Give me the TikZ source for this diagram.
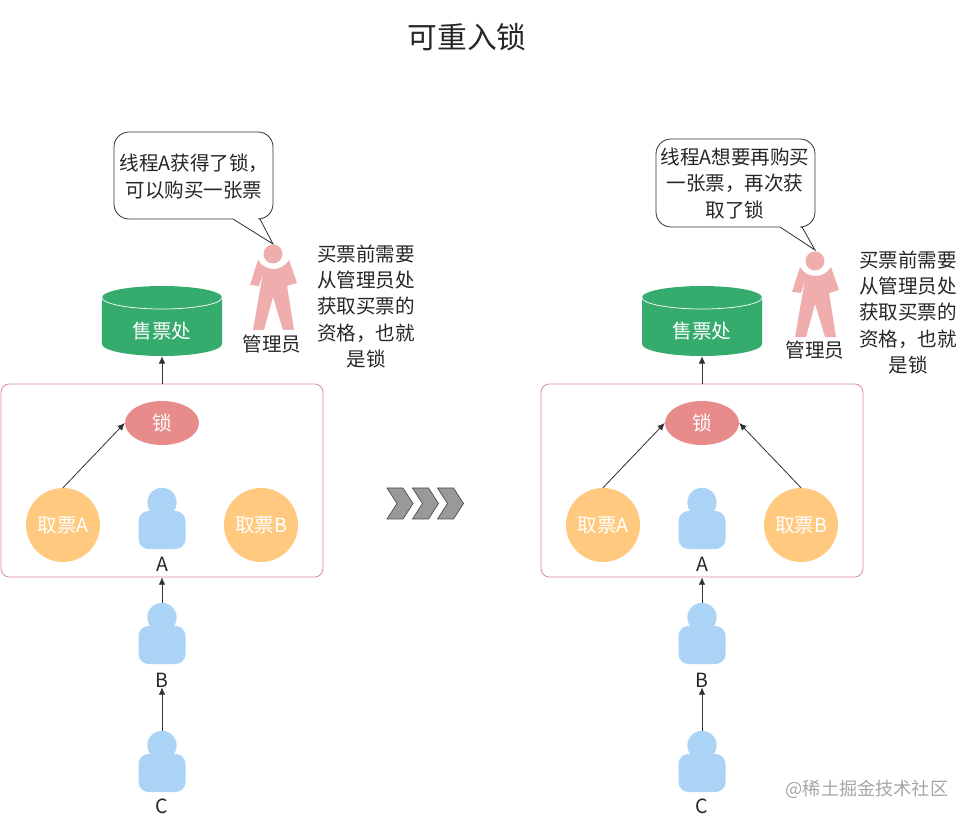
\documentclass[tikz,border=0pt]{standalone}
\usepackage{fontspec}
\setmainfont{Noto Sans CJK SC}
\usepackage{tikz}
\usetikzlibrary{shapes.geometric,arrows.meta}
\definecolor{bleu}{HTML}{ABD3F5}
\definecolor{orange}{HTML}{FFC97F}
\definecolor{rouge}{HTML}{E88B8B}
\definecolor{vert}{HTML}{36AB6E}
\definecolor{rose}{HTML}{EFADAD}
\definecolor{cadre}{HTML}{D98C9A}
\definecolor{sombre}{HTML}{333333}
\tikzset{
  txt/.style={font=\fontsize{16.7}{22.6}\selectfont,text=black!85,inner sep=0pt},
  ticket/.style={circle,fill=orange,minimum size=2.22cm,inner sep=0pt,text=white,font=\fontsize{16.7}{20}\selectfont},
  verrou/.style={ellipse,fill=rouge,minimum width=2.22cm,minimum height=1.32cm,inner sep=0pt,text=white,font=\fontsize{16.7}{20}\selectfont},
  guichet/.style={rectangle,minimum width=3.6cm,minimum height=1.5cm,inner sep=0pt,text=white,font=\fontsize{16.7}{20}\selectfont},
  tete/.style={circle,fill=bleu,minimum size=0.88cm,inner sep=0pt},
  corps/.style={rectangle,fill=bleu,rounded corners=0.3cm,minimum width=1.41cm,minimum height=1.14cm,inner sep=0pt},
  fl/.style={-{Latex[length=0.22cm,width=0.2cm]},draw=sombre,line width=0.7pt}
}
% personne en bleu : tete + corps
\newcommand{\personne}[3]{
  \node[corps] (#1corps) at (#2,#3+42) {};
  \node[tete] (#1tete) at (#2,#3+14.5) {};
}
% cylindre du guichet
\newcommand{\caisse}[2]{
  \fill[vert] (#1-60,297.5) arc[start angle=180,end angle=0,x radius=1.8cm,y radius=0.345cm]
    -- (#1+60,344) arc[start angle=0,end angle=-180,x radius=1.8cm,y radius=0.36cm] -- cycle;
  \draw[white,line width=0.6pt] (#1-60,297.5) arc[start angle=180,end angle=360,x radius=1.8cm,y radius=0.345cm];
  \node[guichet] (#2) at (#1,331) {售票处};
}
% administrateur vu de face
\newcommand{\gardien}[3]{\begin{scope}[shift={(#1,#2)}]
  \fill[rose] (-15,6) -- (-23,31) -- (-14,32) -- (-10,19) -- (-20,76) -- (-9,76) -- (0,43) -- (10,76) -- (21,76)
    -- (12,19) -- (14,32) -- (24,29) -- (16,6) .. controls (9,18) and (-8,18) .. (-15,6) -- cycle;
  \node[circle,fill=rose,minimum size=0.57cm,inner sep=0pt] (#3) at (0,0) {};
  \end{scope}}
% bulle de dialogue
\newcommand{\bulle}[7]{
  \draw[line width=0.7pt,draw=sombre,fill=white] (#6,#4) -- (#7) -- (#5,#4)
    [rounded corners=0.45cm] -- (#1,#4) -- (#1,#2) -- (#3,#2) -- (#3,#4) [sharp corners] -- (#6,#4) -- cycle;
}
\begin{document}
\begin{tikzpicture}[x=0.03cm,y=-0.03cm]
  \useasboundingbox (0,0) rectangle (970,822);

  \node[txt,font=\fontsize{25.4}{30}\selectfont] (titre) at (467,37) {可重入锁};

  % les deux scenes
  \foreach \s/\dx in {g/0,d/540} {
    \begin{scope}[shift={(\dx,0)}]
      \node[rectangle,draw=cadre,line width=0.7pt,rounded corners=0.25cm,minimum width=9.66cm,minimum height=5.79cm] (\s cadre) at (162,480.5) {};
      \caisse{162}{\s guichet}
      \node[verrou] (\s verrou) at (162,423) {锁};
      \node[ticket] (\s ticketA) at (63,525) {取票A};
      \node[ticket] (\s ticketB) at (261,525) {取票B};
      \personne{\s A}{162}{488}
      \personne{\s B}{162}{603}
      \personne{\s C}{162}{731}
      \node[txt] (\s lA) at (162,564) {A};
      \node[txt] (\s lB) at (162,680) {B};
      \node[txt] (\s lC) at (162,806) {C};
    \end{scope}
    \draw[fl] (\s cadre.north) -- (\s guichet.south);
    \draw[fl] (\s ticketA.north) -- (\s verrou.west);
    \draw[fl] (\s Btete.north) -- (\s cadre.south);
    \draw[fl] (\s Ctete.north) -- (\s lB.south);
  }
  \draw[fl] (dticketB.north) -- (dverrou.east);

  % bulles
  \coordinate (pointeG) at (273,244);
  \coordinate (pointeD) at (815,250);
  \bulle{114}{132}{273}{219}{233}{260}{pointeG}
  \bulle{656}{139}{815}{227}{780}{802}{pointeD}
  \node[txt,align=center] (paroleG) at (194,176.5) {线程A获得了锁，\\可以购买一张票};
  \node[txt,align=center] (paroleD) at (735,183.5) {线程A想要再购买\\一张票，再次获\\取了锁};

  % gardiens
  \gardien{273}{254}{gardienG}
  \gardien{815}{261}{gardienD}
  \node[txt] (nomG) at (272,344) {管理员};
  \node[txt] (nomD) at (815,350) {管理员};
  \node[txt,align=center] (noteG) at (366,306.5) {买票前需要\\从管理员处\\获取买票的\\资格，也就\\是锁};
  \node[txt,align=center] (noteD) at (908,312.5) {买票前需要\\从管理员处\\获取买票的\\资格，也就\\是锁};

  % chevrons
  \foreach \x in {387,412.5,437.5} {
    \draw[fill=black!40,draw=black!70,line width=0.6pt] (\x,488) -- (\x+16,488) -- (\x+26,503.5) -- (\x+16,519) -- (\x,519) -- (\x+10,503.5) -- cycle;
  }

  \node[txt,text=black!35,font=\fontsize{15.5}{18}\selectfont] (filigrane) at (867,789) {@稀土掘金技术社区};
\end{tikzpicture}
\end{document}
